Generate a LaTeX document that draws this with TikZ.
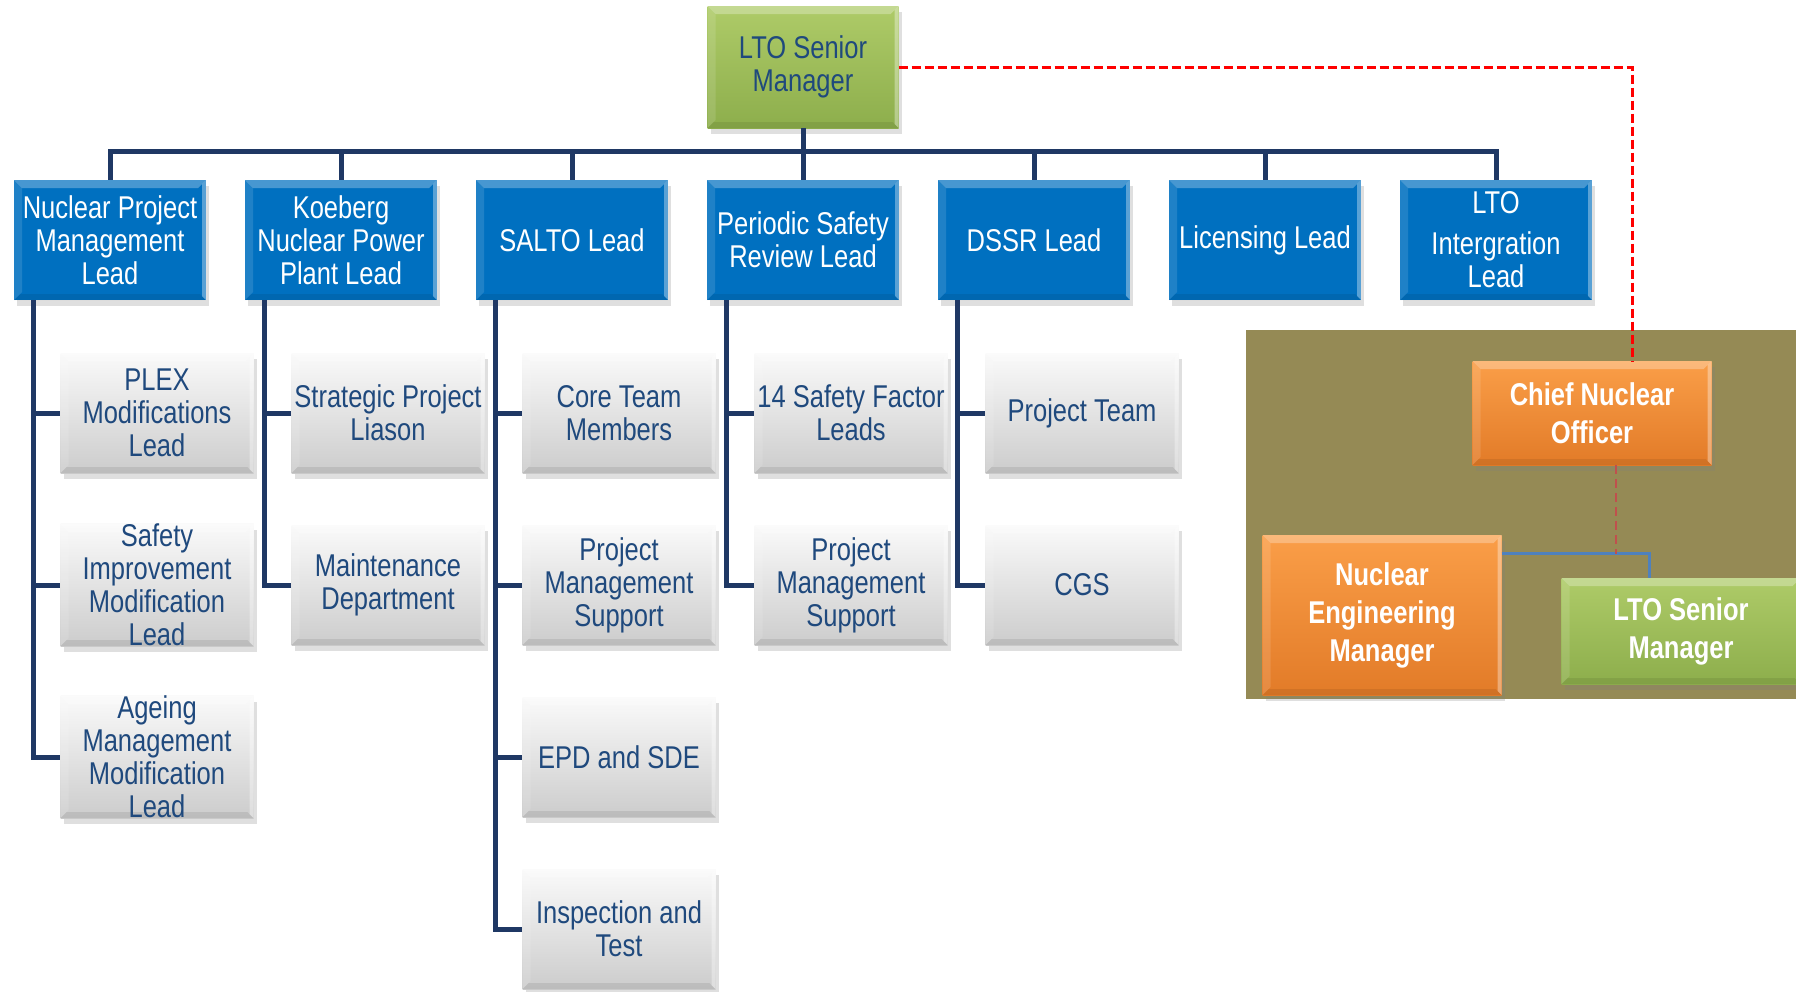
\documentclass[tikz,border=0pt]{standalone}
\usepackage{fontspec}
\setmainfont{Liberation Sans}[FakeStretch=0.81]
\usetikzlibrary{shadows,calc}
\definecolor{navy}{HTML}{1F3864}
\definecolor{bluebox}{HTML}{0070C0}
\definecolor{txtblue}{HTML}{1F497D}
\definecolor{greentop}{HTML}{AECB68}
\definecolor{greenbot}{HTML}{8DAE4C}
\definecolor{orangetop}{HTML}{FA9E48}
\definecolor{orangebot}{HTML}{E27B28}
\definecolor{olivebg}{HTML}{958A55}
\definecolor{linkblue}{HTML}{4F81BD}
\definecolor{darkred}{HTML}{C0504D}
\tikzset{
  bevel/.style={path picture={
    \fill[white,opacity=0.28] (path picture bounding box.north west) -- (path picture bounding box.north east)
      -- ([shift={(-8pt,-8pt)}]path picture bounding box.north east) -- ([shift={(8pt,-8pt)}]path picture bounding box.north west) -- cycle;
    \fill[black,opacity=0.08] (path picture bounding box.south west) -- (path picture bounding box.south east)
      -- ([shift={(-6pt,6pt)}]path picture bounding box.south east) -- ([shift={(6pt,6pt)}]path picture bounding box.south west) -- cycle;
    \fill[white,opacity=0.35] (path picture bounding box.north east) -- (path picture bounding box.south east)
      -- ([shift={(-4pt,4pt)}]path picture bounding box.south east) -- ([shift={(-4pt,-4pt)}]path picture bounding box.north east) -- cycle;
    \fill[white,opacity=0.12] (path picture bounding box.north west) -- (path picture bounding box.south west)
      -- ([shift={(8pt,8pt)}]path picture bounding box.south west) -- ([shift={(8pt,-8pt)}]path picture bounding box.north west) -- cycle;
  }},
  box/.style={rectangle, inner sep=0pt, align=center, bevel,
    font=\fontsize{31.5}{33}\selectfont,
    drop shadow={opacity=0.25, shadow xshift=3pt, shadow yshift=-6pt}},
  topmgr/.style={box, top color=greentop, bottom color=greenbot, text=txtblue,
    minimum width=191pt, minimum height=122pt},
  lead/.style={box, fill=bluebox, text=white, minimum width=192pt, minimum height=120pt},
  member/.style={box, top color=white!96!gray, bottom color=gray!40, text=txtblue,
    minimum width=193pt, minimum height=120pt},
  execbox/.style={box, top color=orangetop, bottom color=orangebot, text=white,
    font=\fontsize{31.5}{38}\bfseries\selectfont, minimum width=239pt, minimum height=104pt},
  seniorbox/.style={box, top color=greentop, bottom color=greenbot, text=white,
    font=\fontsize{31.5}{38}\bfseries\selectfont, minimum width=239pt, minimum height=106pt},
  conn/.style={draw=navy, line width=5pt},
  spine/.style={draw=navy, line width=5pt},
  reddash/.style={draw=red, line width=3pt, dash pattern=on 9pt off 4pt},
  cnodash/.style={draw=darkred, line width=2.5pt, dash pattern=on 9pt off 5pt},
  bluelink/.style={draw=linkblue, line width=3pt},
}
\begin{document}
\begin{tikzpicture}[x=1pt,y=-1pt]
\clip (0,0) rectangle (1796,991);
\fill[white] (0,0) rectangle (1796,991);
\useasboundingbox (0,0) rectangle (1796,991);

% right-hand panel
\fill[olivebg] (1246,330) rectangle (1800,699);

% top manager
\node[topmgr] (top) at (803,67) {LTO Senior\\Manager};
\coordinate (bus) at (803,151);

% leads
\node[lead] (npm) at (110,240) {Nuclear Project\\Management\\Lead};
\node[lead] (knp) at (341,240) {Koeberg\\Nuclear Power\\Plant Lead};
\node[lead] (salto) at (572,240) {SALTO Lead};
\node[lead] (psr) at (803,240) {Periodic Safety\\Review Lead};
\node[lead] (dssr) at (1034,240) {DSSR Lead};
\node[lead] (lic) at (1265,240) {Licensing Lead};
\node[lead] (lti) at (1496,240) {LTO\\[8pt]Intergration\\Lead};

% members
\node[member] (plex) at (157,413) {PLEX\\Modifications\\Lead};
\node[member] (sim) at (157,585) {Safety\\Improvement\\Modification\\Lead};
\node[member] (amm) at (157,757) {Ageing\\Management\\Modification\\Lead};

\node[member] (spl) at (388,413) {Strategic Project\\Liason};
\node[member] (mdp) at (388,585) {Maintenance\\Department};

\node[member] (ctm) at (619,413) {Core Team\\Members};
\node[member] (pms1) at (619,585) {Project\\Management\\Support};
\node[member] (epd) at (619,757) {EPD and SDE};
\node[member] (iat) at (619,929) {Inspection and\\Test};

\node[member] (sfl) at (851,413) {14 Safety Factor\\Leads};
\node[member] (pms2) at (851,585) {Project\\Management\\Support};

\node[member] (ptm) at (1082,413) {Project Team};
\node[member] (cgs) at (1082,585) {CGS};

% right side nodes
\node[execbox] (cno) at (1592,413) {Chief Nuclear\\Officer};
\node[execbox, minimum height=160pt] (nem) at (1382,615) {Nuclear\\Engineering\\Manager};
\node[seniorbox] (lsm) at (1681,631) {LTO Senior\\Manager};

% top bus connectors
\draw[conn] (top.south) -- (psr.north);
\foreach \n in {npm,knp,salto,dssr,lic,lti} {
  \draw[conn] (\n.north) |- (bus);
}

% spines
\foreach \p/\c in {npm/plex,npm/sim,npm/amm,knp/spl,knp/mdp,salto/ctm,salto/pms1,salto/epd,salto/iat,psr/sfl,psr/pms2,dssr/ptm,dssr/cgs} {
  \draw[spine] (\p.south west) ++(20,0) |- (\c.west);
}

% reporting lines
\draw[reddash] (top.east) -| ($(cno.north)+(40,0)$);
\draw[bluelink] ($(nem.north east)+(0,19)$) -| ($(lsm.north)+(-32,0)$);
\draw[cnodash] ($(cno.south)+(24,0)$) -- ++(0,89);
\end{tikzpicture}
\end{document}
